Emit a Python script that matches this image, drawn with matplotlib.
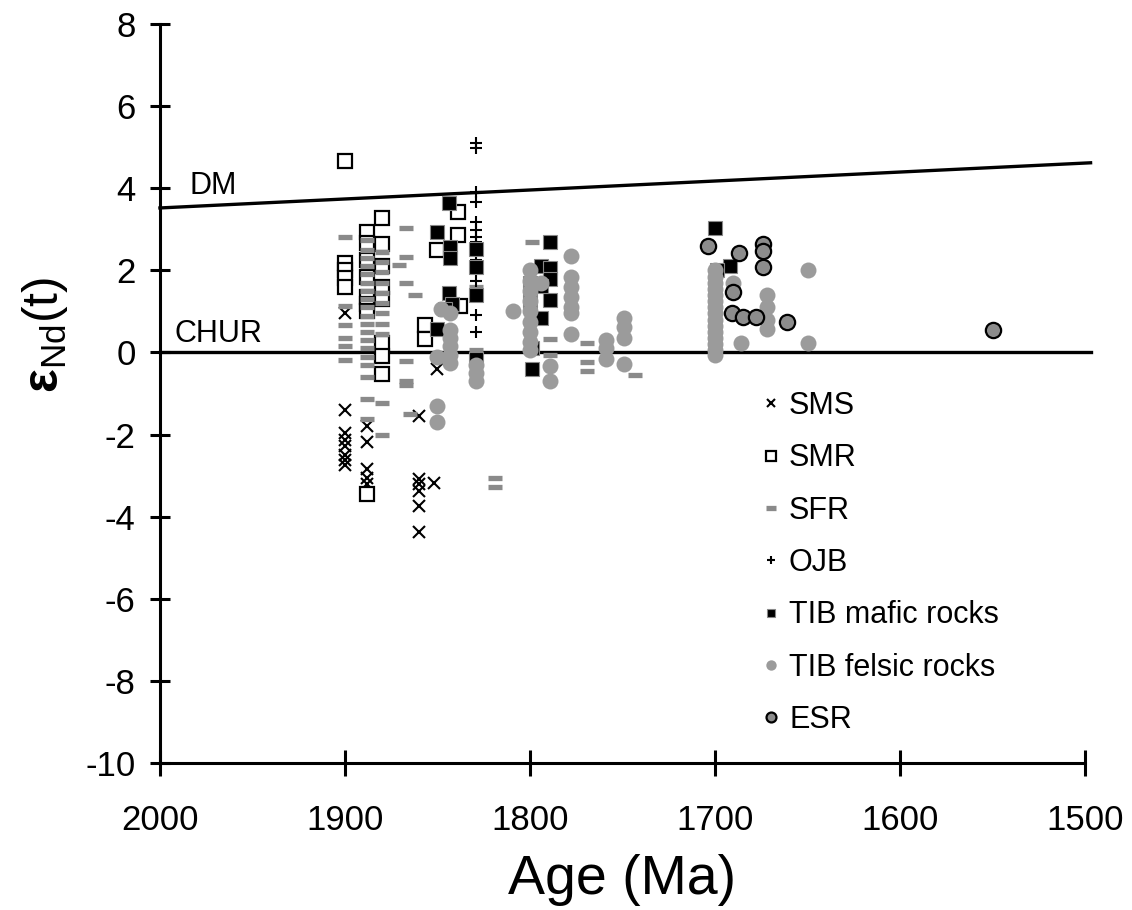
import numpy as np
import matplotlib
matplotlib.use('Agg')
import matplotlib.pyplot as plt

plt.rcParams['font.family'] = ['Liberation Sans', 'DejaVu Sans']
plt.rcParams['axes.unicode_minus'] = False
plt.rcParams['mathtext.fontset'] = 'custom'
plt.rcParams['mathtext.rm'] = 'Liberation Sans'
plt.rcParams['mathtext.it'] = 'Liberation Sans:italic'
plt.rcParams['mathtext.bf'] = 'Liberation Sans:bold'

# reference lines
dm_age = [2000, 1497]
dm_val = [3.52, 4.62]
chur_age = [2000, 1497]
chur_val = [0, 0]

# SMS
sms_age = [1900, 1900, 1900, 1900, 1900, 1900, 1900, 1900,
           1888, 1888, 1888, 1888, 1888, 1888,
           1860, 1860, 1860, 1860, 1860, 1860, 1852, 1850]
sms_val = [0.95, -1.39, -1.95, -2.12, -2.28, -2.5, -2.62, -2.75,
           -1.8, -2.17, -2.85, -3.05, -3.2, -3.45,
           -1.55, -3.09, -3.2, -3.38, -3.74, -4.38, -3.17, -0.4]

# SMR
smr_age = [1900, 1900, 1900, 1900, 1900,
           1888, 1888, 1888, 1888, 1888, 1888, 1888, 1888,
           1880, 1880, 1880, 1880, 1880, 1880, 1880, 1880,
           1857, 1857, 1839, 1839, 1850, 1838]
smr_val = [4.67, 2.19, 2.02, 1.82, 1.6,
           2.94, 2.67, 2.26, 1.84, 1.34, 1.17, 1.0, -3.45,
           3.28, 2.63, 2.1, 1.6, 1.3, 0.24, -0.09, -0.53,
           0.66, 0.34, 3.43, 2.87, 2.5, 1.12]

# SFR
sfr_age = [1900, 1900, 1900, 1900, 1900, 1900,
           1888, 1888, 1888, 1888, 1888, 1888, 1888, 1888, 1888, 1888,
           1888, 1888, 1888, 1888, 1888, 1888, 1888, 1888, 1888,
           1880, 1880, 1880, 1880, 1880, 1880, 1880, 1880, 1880, 1880, 1880,
           1867, 1867, 1867, 1867, 1867, 1867, 1871, 1862, 1865,
           1829, 1829, 1829, 1819, 1819, 1799, 1789, 1789,
           1769, 1769, 1769, 1743]
sfr_val = [2.82, 1.12, 0.66, 0.36, 0.15, -0.19,
           2.75, 2.5, 2.3, 2.1, 1.9, 1.7, 1.5, 1.3, 1.1, 0.9,
           0.7, 0.5, 0.3, 0.1, -0.1, -0.3, -0.6, -1.14, -1.63,
           2.45, 2.2, 1.95, 1.7, 1.45, 1.2, 0.95, 0.7, 0.45, -1.22, -2.02,
           3.02, 2.32, 1.7, -0.2, -0.7, -0.8, 2.12, 1.39, -1.5,
           1.6, 0.05, -0.08, -3.05, -3.28, 2.7, 0.32, -0.05,
           0.24, -0.24, -0.45, -0.56]

# OJB
ojb_age = [1829] * 14
ojb_val = [5.1, 4.97, 3.92, 3.67, 3.19, 2.99, 2.82, 2.7, 2.5, 2.26, 2.07, 1.73, 0.92, 0.49]

# TIB mafic rocks
maf_age = [1844, 1850, 1843, 1843, 1844, 1842, 1850, 1846,
           1829, 1829, 1829, 1829,
           1789, 1794, 1789, 1789, 1789, 1794, 1800, 1800, 1794, 1799, 1799,
           1700, 1692, 1699]
maf_val = [3.65, 2.94, 2.58, 2.31, 1.46, 1.19, 0.56, 1.05,
           2.53, 2.07, 1.41, -0.17,
           2.68, 2.1, 2.06, 1.78, 1.29, 1.63, 1.7, 1.25, 0.85, 0.12, -0.41,
           3.02, 2.1, 2.02]

# TIB felsic rocks
fel_age = [1809, 1848, 1843, 1843, 1843, 1843, 1843, 1843, 1850, 1850, 1850,
           1829, 1829, 1829,
           1800, 1800, 1800, 1800, 1800, 1800, 1800, 1800, 1800, 1794,
           1789, 1789,
           1778, 1778, 1778, 1778, 1778, 1778, 1778,
           1759, 1759, 1759, 1749, 1749, 1749, 1749,
           1700, 1700, 1700, 1700, 1700, 1700, 1700, 1700, 1700, 1700,
           1700, 1700, 1700, 1700, 1700,
           1690, 1686, 1672, 1672, 1672, 1672, 1650, 1650]
fel_val = [1.0, 1.05, 0.95, 0.55, 0.35, 0.15, -0.05, -0.25, -0.1, -1.3, -1.7,
           -0.3, -0.5, -0.7,
           2.0, 1.75, 1.5, 1.25, 1.0, 0.75, 0.5, 0.25, 0.05, 1.7,
           -0.34, -0.7,
           2.34, 1.85, 1.6, 1.35, 1.1, 0.95, 0.44,
           0.3, 0.1, -0.15, 0.85, 0.61, 0.36, -0.29,
           2.0, 1.85, 1.7, 1.55, 1.4, 1.25, 1.1, 0.95, 0.8, 0.65,
           0.5, 0.35, 0.2, 0.05, -0.05,
           1.7, 0.24, 1.41, 1.1, 0.8, 0.56, 2.0, 0.22]

# ESR
esr_age = [1704, 1687, 1674, 1674, 1674, 1690, 1691, 1685, 1678, 1661, 1550]
esr_val = [2.6, 2.43, 2.65, 2.48, 2.09, 1.48, 0.97, 0.87, 0.87, 0.75, 0.54]

fig = plt.figure(figsize=(11.32, 9.10), dpi=100)
ax = fig.add_axes([0.1413, 0.1615, 0.8172, 0.8121])

ax.plot(dm_age, dm_val, color='black', lw=2.4, clip_on=False, zorder=2)
ax.plot(chur_age, chur_val, color='black', lw=2.4, clip_on=False, zorder=2)

ax.plot(sms_age, sms_val, ls='none', marker='x', ms=8, mew=1.5,
        color='black', label='SMS', zorder=3)
ax.plot(smr_age, smr_val, ls='none', marker='s', ms=10, mew=1.6,
        mfc='white', mec='black', label='SMR', zorder=3)
ax.plot(sfr_age, sfr_val, ls='none', marker='_', ms=10.5, mew=3.8,
        color='#8a8a8a', label='SFR', zorder=3)
ax.plot(ojb_age, ojb_val, ls='none', marker='+', ms=8.5, mew=1.5,
        color='black', label='OJB', zorder=3)
ax.plot(maf_age, maf_val, ls='none', marker='s', ms=9.5, mew=0.8,
        mfc='black', mec='#888888', label='TIB mafic rocks', zorder=3)
ax.plot(fel_age, fel_val, ls='none', marker='o', ms=11.5, mew=0,
        color='#9b9b9b', label='TIB felsic rocks', zorder=3)
ax.plot(esr_age, esr_val, ls='none', marker='o', ms=11, mew=1.6,
        mfc='#8c8c8c', mec='black', label='ESR', zorder=3)

ax.text(1984, 4.06, 'DM', fontsize=22, va='center', ha='left')
ax.text(1992, 0.44, 'CHUR', fontsize=22, va='center', ha='left')

ax.set_xlim(2000, 1500)
ax.set_ylim(-10, 8)
ax.set_xticks([2000, 1900, 1800, 1700, 1600, 1500])
ax.set_yticks(np.arange(-10, 9, 2))

for s in ['top', 'right']:
    ax.spines[s].set_visible(False)
for s in ['left', 'bottom']:
    ax.spines[s].set_linewidth(2.2)

ax.tick_params(axis='y', direction='inout', length=15, width=2.2,
               labelsize=25, pad=10)
ax.tick_params(axis='x', direction='inout', length=19, width=2.2,
               labelsize=25, pad=20)

ax.set_xlabel('Age (Ma)', fontsize=40)
ax.xaxis.set_label_coords(0.5, -0.158)
ax.xaxis.label.set_va('center')
ax.set_ylabel(r'$\mathbf{\varepsilon}_{\mathrm{Nd}}$(t)', fontsize=36)
ax.yaxis.set_label_coords(-0.124, 0.579)
ax.yaxis.label.set_va('center')

leg = ax.legend(loc='upper left', bbox_to_anchor=(761.5 / 1132, 1 - 391 / 910),
                bbox_transform=fig.transFigure, frameon=False, fontsize=22,
                handlelength=0.6, handletextpad=0.3, labelspacing=0.73,
                borderpad=0, borderaxespad=0, markerscale=0.65)

fig.savefig('out.png', dpi=100)
